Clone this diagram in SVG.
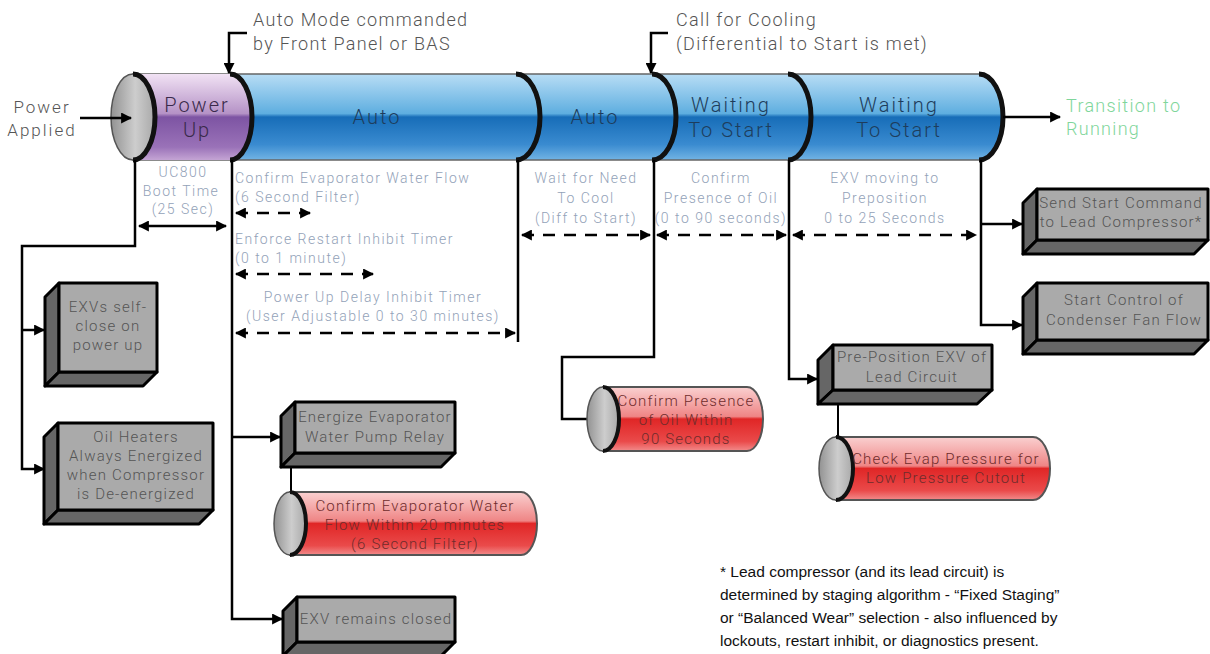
<svg xmlns="http://www.w3.org/2000/svg" width="1210" height="654" viewBox="0 0 1210 654">
<defs>
<linearGradient id="gBlue" x1="0" y1="0" x2="0" y2="1">
<stop offset="0" stop-color="#b8ddf5"/><stop offset="0.46" stop-color="#5eaee0"/><stop offset="0.5" stop-color="#176db8"/><stop offset="0.82" stop-color="#3a8bd0"/><stop offset="1" stop-color="#72b4e4"/>
</linearGradient>
<linearGradient id="gPurple" x1="0" y1="0" x2="0" y2="1">
<stop offset="0" stop-color="#f1e2f4"/><stop offset="0.46" stop-color="#b592c6"/><stop offset="0.5" stop-color="#7d54a3"/><stop offset="0.85" stop-color="#9a72b8"/><stop offset="1" stop-color="#c4a4d4"/>
</linearGradient>
<linearGradient id="gRed" x1="0" y1="0" x2="0" y2="1">
<stop offset="0" stop-color="#fad0d0"/><stop offset="0.46" stop-color="#ef8585"/><stop offset="0.5" stop-color="#e02626"/><stop offset="0.85" stop-color="#ea4a4a"/><stop offset="1" stop-color="#f28c8c"/>
</linearGradient>
<linearGradient id="gCap" x1="0" y1="0" x2="1" y2="0">
<stop offset="0" stop-color="#929292"/><stop offset="0.55" stop-color="#cdcdcd"/><stop offset="1" stop-color="#a8a8a8"/>
</linearGradient>
<marker id="ah" viewBox="0 0 10 10" refX="9" refY="5" markerWidth="4.4" markerHeight="4.4" orient="auto-start-reverse" markerUnits="strokeWidth">
<path d="M0,0 L10,5 L0,10 Z" fill="#000"/>
</marker>
<style>
.t{font-family:Roboto,"Liberation Sans",sans-serif;font-weight:300}
.top{font-size:18px;fill:#555;letter-spacing:1.3px}
.sec{font-size:20px;fill:#1e3d5c;letter-spacing:2px}
.secp{font-size:20px;fill:#3a2a4a;letter-spacing:2px}
.sub{font-size:14px;fill:#93a2b8;letter-spacing:1.5px}
.box{font-size:15px;fill:#555;letter-spacing:1.2px}
.red{font-size:15px;fill:#6e2c2c;letter-spacing:1.2px}
.grn{font-size:18px;fill:#7fd69b;letter-spacing:1.3px}
.note{font-family:"Liberation Sans",Arial,sans-serif;font-size:15.5px;fill:#111}
.front{fill:#aaaaaa;stroke:#000;stroke-width:3;stroke-linejoin:round}
.side{fill:#666;stroke:#000;stroke-width:3;stroke-linejoin:round}
.ln{fill:none;stroke:#000;stroke-width:2.5}
.thin{fill:none;stroke:#000;stroke-width:2}
.dash{fill:none;stroke:#000;stroke-width:2.5;stroke-dasharray:12 9}
.arc{fill:none;stroke:#111;stroke-width:5}
.carc{fill:none;stroke:#111;stroke-width:4}
.cap{fill:url(#gCap);stroke:#555;stroke-width:1.5}
.rbody{fill:url(#gRed);stroke:#555;stroke-width:2}
</style>
</defs>
<rect width="1210" height="654" fill="#fff"/>

<g id="main-cylinder">
<path d="M133,74 H979 A24,43 0 0 1 979,160 H133 Z" fill="url(#gBlue)" stroke="#666" stroke-width="1.5"/>
<path d="M133,74 H230 A22,43 0 0 1 230,160 H133 Z" fill="url(#gPurple)"/>
<ellipse cx="133" cy="117" rx="22" ry="43" class="cap"/>
<path d="M133,74 A22,43 0 0 1 133,160" class="arc"/>
<path d="M230,74 A22,43 0 0 1 230,160" class="arc"/>
<path d="M516,74 A24,43 0 0 1 516,160" class="arc"/>
<path d="M652,74 A24,43 0 0 1 652,160" class="arc"/>
<path d="M788,74 A23,43 0 0 1 788,160" class="arc"/>
<path d="M979,74 A24,43 0 0 1 979,160" class="arc"/>
</g>
<g id="sec-powerup"><text class="t secp" x="197" y="112" text-anchor="middle">Power</text><text class="t secp" x="197" y="137" text-anchor="middle">Up</text></g>
<g id="sec-auto1"><text class="t sec" x="377" y="124" text-anchor="middle">Auto</text></g>
<g id="sec-auto2"><text class="t sec" x="595" y="124" text-anchor="middle">Auto</text></g>
<g id="sec-wait1"><text class="t sec" x="731" y="112" text-anchor="middle">Waiting</text><text class="t sec" x="731" y="137" text-anchor="middle">To Start</text></g>
<g id="sec-wait2"><text class="t sec" x="899" y="112" text-anchor="middle">Waiting</text><text class="t sec" x="899" y="137" text-anchor="middle">To Start</text></g>

<g id="labels-top">
<text class="t top" x="253" y="26">Auto Mode commanded</text>
<text class="t top" x="253" y="50">by Front Panel or BAS</text>
<text class="t top" x="676" y="26">Call for Cooling</text>
<text class="t top" x="676" y="50">(Differential to Start is met)</text>
<text class="t top" x="42" y="113" text-anchor="middle" style="font-size:17px;letter-spacing:2px">Power</text>
<text class="t top" x="42" y="136" text-anchor="middle" style="font-size:17px;letter-spacing:2px">Applied</text>
<text class="t grn" x="1066" y="112">Transition to</text>
<text class="t grn" x="1066" y="135">Running</text>
</g>

<g id="labels-sub">
<text class="t sub" x="183" y="177" text-anchor="middle">UC800</text>
<text class="t sub" x="181" y="196" text-anchor="middle">Boot Time</text>
<text class="t sub" x="183" y="214" text-anchor="middle">(25 Sec)</text>
<text class="t sub" x="235" y="183">Confirm Evaporator Water Flow</text>
<text class="t sub" x="235" y="202">(6 Second Filter)</text>
<text class="t sub" x="235" y="244">Enforce Restart Inhibit Timer</text>
<text class="t sub" x="235" y="263">(0 to 1 minute)</text>
<text class="t sub" x="373" y="302" text-anchor="middle">Power Up Delay Inhibit Timer</text>
<text class="t sub" x="373" y="321" text-anchor="middle">(User Adjustable 0 to 30 minutes)</text>
<text class="t sub" x="586" y="183" text-anchor="middle">Wait for Need</text>
<text class="t sub" x="586" y="203" text-anchor="middle">To Cool</text>
<text class="t sub" x="586" y="223" text-anchor="middle">(Diff to Start)</text>
<text class="t sub" x="721" y="183" text-anchor="middle">Confirm</text>
<text class="t sub" x="721" y="203" text-anchor="middle">Presence of Oil</text>
<text class="t sub" x="721" y="223" text-anchor="middle">(0 to 90 seconds)</text>
<text class="t sub" x="885" y="183" text-anchor="middle">EXV moving to</text>
<text class="t sub" x="885" y="203" text-anchor="middle">Preposition</text>
<text class="t sub" x="885" y="223" text-anchor="middle">0 to 25 Seconds</text>
</g>

<g id="connectors">
<path class="ln" d="M80,118 H131" marker-end="url(#ah)"/>
<path class="ln" d="M247,33 H229 V73" marker-end="url(#ah)"/>
<path class="ln" d="M668,33 H651 V73" marker-end="url(#ah)"/>
<path class="ln" d="M1003,117 H1060" marker-end="url(#ah)"/>
<path class="ln" d="M135,160 V246 H22 V469 H44" marker-end="url(#ah)"/>
<path class="ln" d="M22,330 H44" marker-end="url(#ah)"/>
<path class="ln" d="M139,226 H226" marker-start="url(#ah)" marker-end="url(#ah)"/>
<path class="ln" d="M232,160 V619 H282" marker-end="url(#ah)"/>
<path class="ln" d="M232,437 H280" marker-end="url(#ah)"/>
<path class="dash" d="M236,213 H310" marker-start="url(#ah)" marker-end="url(#ah)"/>
<path class="dash" d="M236,274 H373" marker-start="url(#ah)" marker-end="url(#ah)"/>
<path class="dash" d="M236,333 H515" marker-start="url(#ah)" marker-end="url(#ah)"/>
<path class="ln" d="M518,160 V342"/>
<path class="dash" d="M522,235 H650" marker-start="url(#ah)" marker-end="url(#ah)"/>
<path class="dash" d="M657,235 H786" marker-start="url(#ah)" marker-end="url(#ah)"/>
<path class="dash" d="M793,235 H976" marker-start="url(#ah)" marker-end="url(#ah)"/>
<path class="ln" d="M654,160 V357 H562 V419 H600" marker-end="url(#ah)"/>
<path class="ln" d="M789,160 V379 H817" marker-end="url(#ah)"/>
<path class="ln" d="M981,160 V325 H1022" marker-end="url(#ah)"/>
<path class="ln" d="M981,224 H1022" marker-end="url(#ah)"/>
<path class="thin" d="M291,467 V492"/>
<path class="thin" d="M838,404 V437"/>
</g>

<g id="box-exvs">
<polygon class="side" points="59,283 45,297 45,386 59,372"/>
<polygon class="side" points="59,372 157,372 143,386 45,386"/>
<rect class="front" x="59" y="283" width="98" height="89"/>
<text class="t box" x="108" y="312" text-anchor="middle">EXVs self-</text>
<text class="t box" x="108" y="331" text-anchor="middle">close on</text>
<text class="t box" x="108" y="350" text-anchor="middle">power up</text>
</g>
<g id="box-oil">
<polygon class="side" points="58,423 44,437 44,524 58,510"/>
<polygon class="side" points="58,510 213,510 199,524 44,524"/>
<rect class="front" x="58" y="423" width="155" height="87"/>
<text class="t box" x="136" y="442" text-anchor="middle">Oil Heaters</text>
<text class="t box" x="136" y="461" text-anchor="middle">Always Energized</text>
<text class="t box" x="136" y="480" text-anchor="middle">when Compressor</text>
<text class="t box" x="136" y="499" text-anchor="middle">is De-energized</text>
</g>
<g id="box-energize">
<polygon class="side" points="295,402 281,416 281,467 295,453"/>
<polygon class="side" points="295,453 455,453 441,467 281,467"/>
<rect class="front" x="295" y="402" width="160" height="51"/>
<text class="t box" x="375" y="422" text-anchor="middle">Energize Evaporator</text>
<text class="t box" x="375" y="442" text-anchor="middle">Water Pump Relay</text>
</g>
<g id="cyl-evapflow">
<path class="rbody" d="M290,492 H521 A16,31.5 0 0 1 521,555 H290 Z"/>
<ellipse class="cap" cx="290" cy="523.5" rx="16" ry="31.5"/>
<path class="carc" d="M290,492 A16,31.5 0 0 1 290,555"/>
<text class="t red" x="415" y="511" text-anchor="middle">Confirm Evaporator Water</text>
<text class="t red" x="415" y="530" text-anchor="middle">Flow Within 20 minutes</text>
<text class="t red" x="415" y="549" text-anchor="middle">(6 Second Filter)</text>
</g>
<g id="box-exvclosed">
<polygon class="side" points="297,597 283,611 283,656 297,642"/>
<polygon class="side" points="297,642 455,642 441,656 283,656"/>
<rect class="front" x="297" y="597" width="158" height="45"/>
<text class="t box" x="376" y="624" text-anchor="middle">EXV remains closed</text>
</g>
<g id="cyl-oil">
<path class="rbody" d="M603,387 H747 A16,32 0 0 1 747,451 H603 Z"/>
<ellipse class="cap" cx="603" cy="419" rx="16" ry="32"/>
<path class="carc" d="M603,387 A16,32 0 0 1 603,451"/>
<text class="t red" x="686" y="406" text-anchor="middle">Confirm Presence</text>
<text class="t red" x="686" y="425" text-anchor="middle">of Oil Within</text>
<text class="t red" x="686" y="444" text-anchor="middle">90 Seconds</text>
</g>
<g id="box-preposition">
<polygon class="side" points="833,345 818,360 818,404 833,390"/>
<polygon class="side" points="833,390 992,390 977,404 818,404"/>
<rect class="front" x="833" y="345" width="159" height="45"/>
<text class="t box" x="912" y="362" text-anchor="middle">Pre-Position EXV of</text>
<text class="t box" x="912" y="382" text-anchor="middle">Lead Circuit</text>
</g>
<g id="cyl-evappress">
<path class="rbody" d="M836,437 H1033 A17,31.5 0 0 1 1033,500 H836 Z"/>
<ellipse class="cap" cx="836" cy="468.5" rx="17" ry="31.5"/>
<path class="carc" d="M836,437 A17,31.5 0 0 1 836,500"/>
<text class="t red" x="946" y="464" text-anchor="middle">Check Evap Pressure for</text>
<text class="t red" x="946" y="483" text-anchor="middle">Low Pressure Cutout</text>
</g>
<g id="box-sendstart">
<polygon class="side" points="1037,189 1023,203 1023,254 1037,240"/>
<polygon class="side" points="1037,240 1208,240 1194,254 1023,254"/>
<rect class="front" x="1037" y="189" width="171" height="51"/>
<text class="t box" x="1121" y="208" text-anchor="middle">Send Start Command</text>
<text class="t box" x="1121" y="227" text-anchor="middle">to Lead Compressor*</text>
</g>
<g id="box-condenser">
<polygon class="side" points="1037,283 1023,297 1023,354 1037,340"/>
<polygon class="side" points="1037,340 1208,340 1194,354 1023,354"/>
<rect class="front" x="1037" y="283" width="171" height="57"/>
<text class="t box" x="1124" y="305" text-anchor="middle">Start Control of</text>
<text class="t box" x="1124" y="325" text-anchor="middle">Condenser Fan Flow</text>
</g>

<g id="footnote">
<text class="note" x="720" y="577">* Lead compressor (and its lead circuit) is</text>
<text class="note" x="720" y="600">determined by staging algorithm - “Fixed Staging”</text>
<text class="note" x="720" y="623">or “Balanced Wear” selection - also influenced by</text>
<text class="note" x="720" y="646">lockouts, restart inhibit, or diagnostics present.</text>
</g>
</svg>
